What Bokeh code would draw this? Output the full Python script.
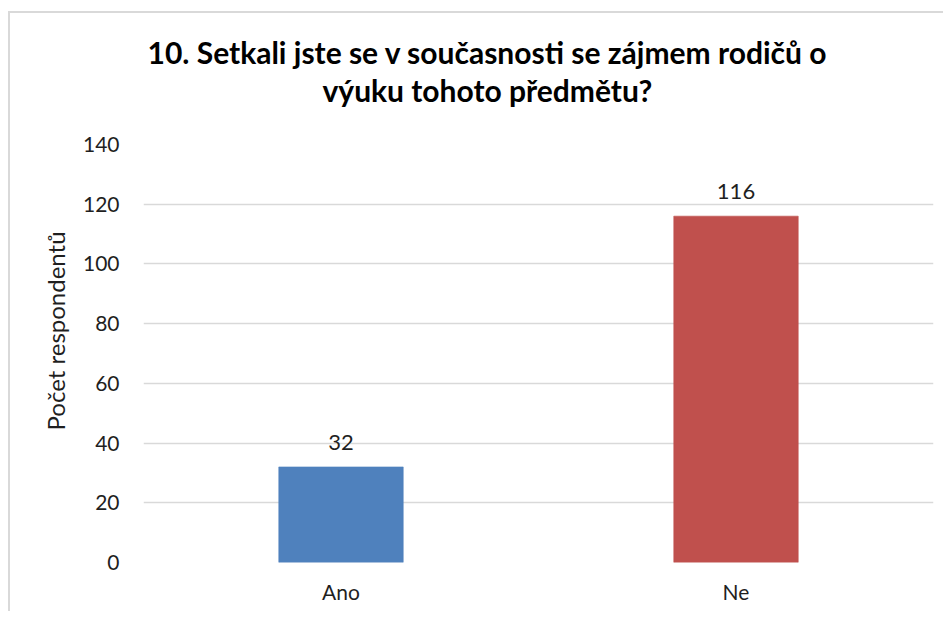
from bokeh.plotting import figure
from bokeh.models import FactorRange, Range1d, LabelSet, Title, ColumnDataSource
from bokeh.core.properties import value
from bokeh.embed import file_html
from bokeh.resources import INLINE

# --- data ---
categories = ["Ano", "Ne"]
counts = [32, 116]
bar_colors = ["#4F81BD", "#C0504D"]
y_ticks = [0, 20, 40, 60, 80, 100, 120, 140]
title_lines = ["10. Setkali jste se v současnosti se zájmem rodičů o", "výuku tohoto předmětu?"]
y_label = "Počet respondentů"

FONT = "Lato"
TEXT_COLOR = "#1f1f1f"
GRID_COLOR = "#D9D9D9"

source = ColumnDataSource(dict(cat=categories, val=counts, color=bar_colors,
                               label=[str(v) for v in counts]))

p = figure(
    x_range=FactorRange(factors=categories),
    y_range=Range1d(0, 140),
    width=935, height=600,
    output_backend="svg", toolbar_location=None,
    min_border_left=133, min_border_right=12,
    min_border_top=131, min_border_bottom=51,
)
p.styles = {"border-left": "2px solid #D9D9D9", "border-top": "2px solid #D9D9D9",
            "margin-left": "8px", "margin-top": "11px"}

p.vbar(x="cat", top="val", width=0.315, source=source,
       fill_color="color", line_color="color", line_alpha=0.6)

labels = LabelSet(x="cat", y="val", text="label", source=source,
                  text_align="center", text_baseline="bottom", y_offset=17,
                  text_font=value(FONT), text_font_size=value("22px"),
                  text_color=value(TEXT_COLOR))
p.add_layout(labels)

# axes
p.yaxis.ticker = y_ticks
for ax in (p.xaxis[0], p.yaxis[0]):
    ax.axis_line_color = None
    ax.major_tick_line_color = None
    ax.minor_tick_line_color = None
    ax.major_label_text_font = FONT
    ax.major_label_text_font_size = "21px"
    ax.major_label_text_color = TEXT_COLOR
p.yaxis.major_label_standoff = 18
p.xaxis.major_label_standoff = 10

# title: two lines, closest to the frame first
t2 = Title(text=title_lines[1], align="left", offset=179, standoff=74,
           text_font=FONT, text_font_size="30px", text_font_style="bold",
           text_color="#000000")
t1 = Title(text=title_lines[0], align="left", offset=4, standoff=-75,
           text_font=FONT, text_font_size="30px", text_font_style="bold",
           text_color="#000000")
p.add_layout(t2, "above")
p.add_layout(t1, "above")

# y axis title
ty = Title(text=y_label, align="left", offset=132, standoff=20,
           text_font=FONT, text_font_size="24px", text_font_style="normal",
           text_color=TEXT_COLOR)
p.add_layout(ty, "left")

p.xgrid.grid_line_color = None
p.ygrid.grid_line_color = GRID_COLOR
p.ygrid.grid_line_width = 1.5
p.outline_line_color = None
p.background_fill_color = "white"
p.border_fill_color = "white"

open("out.html", "w").write(file_html(p, INLINE))
